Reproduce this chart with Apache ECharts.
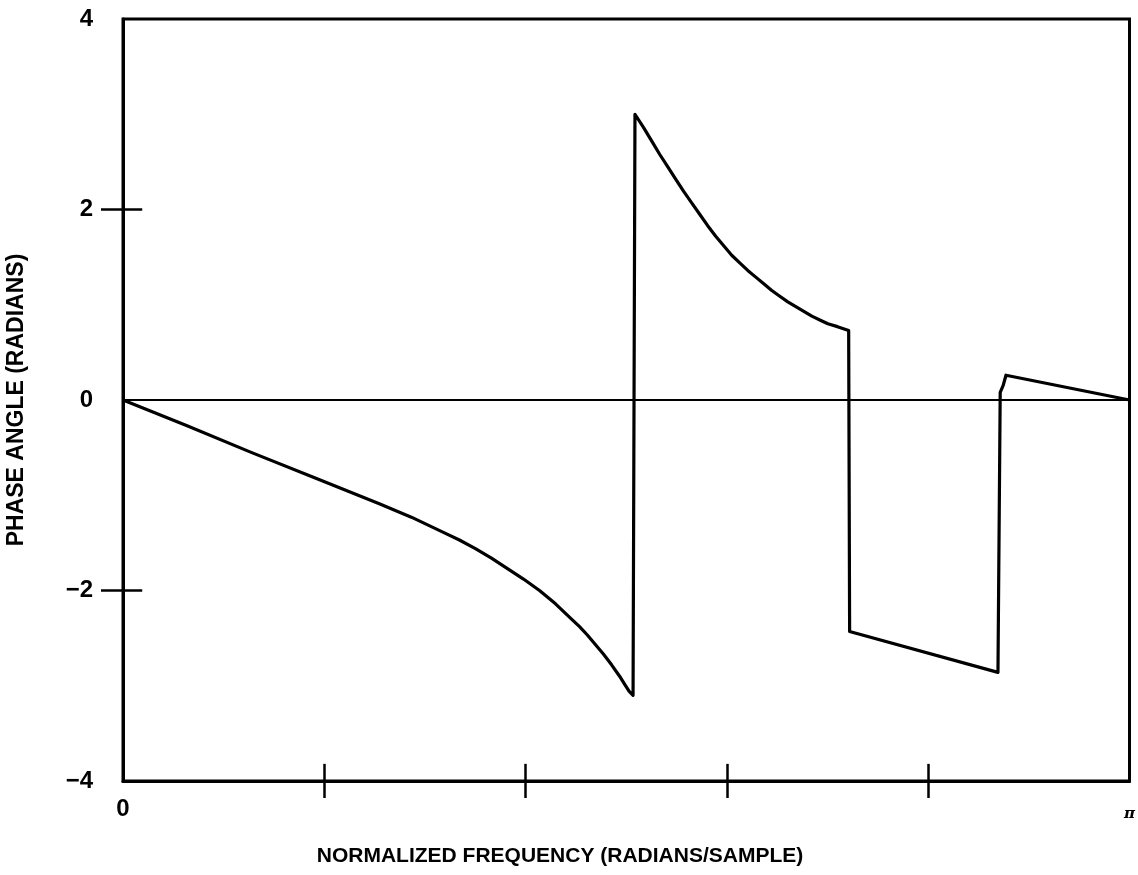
<!DOCTYPE html>
<html>
<head>
<meta charset="utf-8">
<script src="https://cdn.jsdelivr.net/npm/echarts@6/dist/echarts.min.js"></script>
<style>
  html, body { margin: 0; padding: 0; background: #fff; }
  #chart { width: 1138px; height: 875px; }
</style>
</head>
<body>
<div id="chart"></div>
<script>
// normalized frequency (radians/sample)
const freq = [
  0, 0.2, 0.4, 0.6, 0.8, 0.9, 1.0, 1.05, 1.1, 1.15, 1.2, 1.25, 1.3, 1.35, 1.4, 1.425, 1.45,
  1.475, 1.5, 1.525, 1.55, 1.565, 1.58, 1.592,
  1.598, 1.625, 1.65, 1.675, 1.7, 1.725, 1.75, 1.775, 1.8, 1.825, 1.85, 1.875, 1.9, 1.925,
  1.95, 1.975, 2.0, 2.025, 2.05, 2.075, 2.1, 2.125, 2.15, 2.175, 2.2, 2.23, 2.265,
  2.268, 2.731,
  2.738, 2.747, 2.756, Math.PI
]
// phase angle (radians)
const phase = [
  0, -0.27, -0.55, -0.82, -1.09, -1.23, -1.39, -1.47, -1.56, -1.66, -1.77, -1.88, -2.0, -2.14, -2.3, -2.38, -2.47,
  -2.57, -2.67, -2.78, -2.9, -2.98, -3.06, -3.1,
  3.0, 2.86, 2.72, 2.58, 2.45, 2.32, 2.19, 2.07, 1.95, 1.83, 1.72, 1.62, 1.52, 1.44,
  1.36, 1.29, 1.22, 1.15, 1.09, 1.03, 0.98, 0.93, 0.88, 0.84, 0.80, 0.77, 0.73,
  -2.43, -2.86,
  0.08, 0.15, 0.26, 0
]
const xTicks = [1, 2, 3, 4].map(k => k * Math.PI / 5)
const xLabels = [0, Math.PI]
const yTicks = [-2, 2]
const yLabels = [-4, -2, 0, 2, 4]

const X_MIN = 0, X_MAX = Math.PI, Y_MIN = -4, Y_MAX = 4
// inner half of the crossing ticks, in axis units
const xTickIn = 0.18
const yTickIn = 0.06

const chart = echarts.init(document.getElementById('chart'))
const black = '#000'
const labelFont = { color: black, fontSize: 24, fontWeight: 'bold', fontFamily: 'Liberation Sans, Arial, sans-serif' }
const axisLineStyle = { color: black, width: 3 }
const tickStyle = { color: black, width: 2.5 }

const innerTicks = [
  ...xTicks.map(v => [{ coord: [v, Y_MIN] }, { coord: [v, Y_MIN + xTickIn] }]),
  ...yTicks.map(v => [{ coord: [X_MIN, v] }, { coord: [X_MIN + yTickIn, v] }])
].map(seg => { seg[0].lineStyle = { width: 2.5 }; return seg })

const option = {
  animation: false,
  grid: { left: 123, right: 3, top: 19, bottom: 94, show: true, borderColor: black, borderWidth: 3 },
  xAxis: {
    type: 'value', min: X_MIN, max: X_MAX, position: 'bottom',
    axisLine: { onZero: false, lineStyle: axisLineStyle },
    axisTick: { customValues: xTicks, length: 17, lineStyle: tickStyle },
    axisLabel: {
      customValues: xLabels, margin: 16,
      formatter: v => v === 0 ? '0' : '{pi|π}',
      ...labelFont,
      rich: { pi: { fontFamily: 'DejaVu Serif, serif', fontStyle: 'italic', fontSize: 15, color: black, padding: [10, 0, 0, 0] } }
    },
    splitLine: { show: false }
  },
  yAxis: {
    type: 'value', min: Y_MIN, max: Y_MAX, interval: 2, position: 'left',
    axisLine: { show: true, onZero: false, lineStyle: axisLineStyle },
    axisTick: { customValues: yTicks, length: 22, lineStyle: tickStyle },
    axisLabel: {
      customValues: yLabels, margin: 30,
      formatter: v => v < 0 ? '\u2212' + Math.abs(v) : String(v),
      ...labelFont
    },
    splitLine: { show: false }
  },
  series: [
    {
      type: 'line',
      data: freq.map((f, i) => [f, phase[i]]),
      symbol: 'none',
      lineStyle: { color: black, width: 3.2, join: 'round' },
      markLine: {
        silent: true,
        symbol: 'none',
        label: { show: false },
        lineStyle: { color: black, width: 2.2, type: 'solid' },
        data: [{ yAxis: 0 }, ...innerTicks]
      }
    }
  ],
  graphic: [
    {
      type: 'text', x: 560, y: 846,
      style: { text: 'NORMALIZED FREQUENCY (RADIANS/SAMPLE)', fill: black, font: 'bold 21px "Liberation Sans", Arial, sans-serif', align: 'center', verticalAlign: 'top' }
    },
    {
      type: 'text', x: 5, y: 400, rotation: Math.PI / 2,
      style: { text: 'PHASE ANGLE (RADIANS)', fill: black, font: 'bold 23px "Liberation Sans", Arial, sans-serif', align: 'center', verticalAlign: 'top' }
    }
  ]
}
chart.setOption(option)
</script>
</body>
</html>
